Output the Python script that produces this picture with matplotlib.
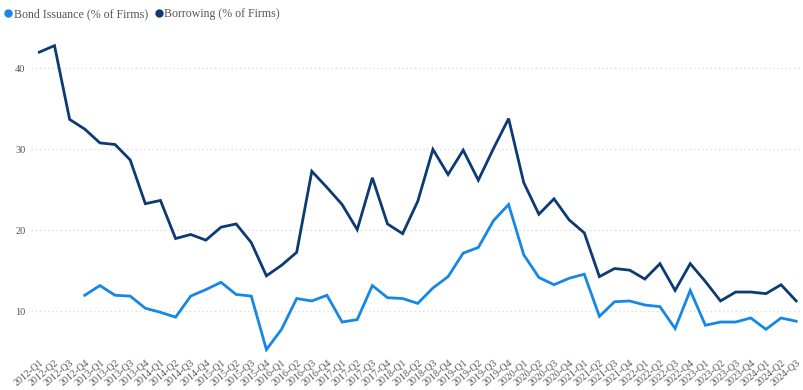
import matplotlib
matplotlib.use("Agg")
import matplotlib.pyplot as plt
from matplotlib.lines import Line2D

quarters = [f"{y}-Q{q}" for y in range(2012, 2025) for q in range(1, 5)][:51]

borrowing = [42.0, 42.8, 33.7, 32.5, 30.8, 30.6, 28.7, 23.3, 23.7, 19.0,
             19.5, 18.8, 20.4, 20.8, 18.5, 14.4, 15.7, 17.3, 27.3, 25.3,
             23.2, 20.1, 26.5, 20.8, 19.6, 23.6, 30.0, 26.9, 29.9, 26.2,
             30.1, 33.8, 25.9, 22.0, 23.9, 21.3, 19.7, 14.3, 15.3, 15.1,
             14.0, 15.9, 12.6, 15.9, 13.7, 11.3, 12.4, 12.4, 12.2, 13.3,
             11.3]

bond = [None, None, None, 12.0, 13.2, 12.0, 11.9, 10.4, 9.9, 9.3,
        11.9, 12.7, 13.6, 12.1, 11.9, 5.3, 7.8, 11.6, 11.3, 12.0,
        8.7, 9.0, 13.2, 11.7, 11.6, 11.0, 12.9, 14.3, 17.2, 17.9,
        21.2, 23.2, 17.0, 14.2, 13.3, 14.1, 14.6, 9.4, 11.2, 11.3,
        10.8, 10.6, 7.9, 12.6, 8.3, 8.7, 8.7, 9.2, 7.8, 9.2,
        8.8]

yticks = [10, 20, 30, 40]

bond_color = "#1588e6"
borrow_color = "#0c3a72"
text_color = "#555555"
serif = ["Liberation Serif", "DejaVu Serif"]

fig = plt.figure(figsize=(8.04, 3.9), dpi=100)
ax = fig.add_axes([0.0386, 0.0974, 0.9564, 0.8313])

x = list(range(len(quarters)))
bx = [i for i, v in zip(x, bond) if v is not None]
bv = [v for v in bond if v is not None]

ax.plot(x, borrowing, color=borrow_color, lw=2.0, solid_joinstyle="miter")
ax.plot(bx, bv, color=bond_color, lw=2.0, solid_joinstyle="miter")

ax.set_xlim(-0.55, 50.25)
ax.set_ylim(5, 45)
ax.set_yticks(yticks)
ax.set_yticklabels([str(t) for t in yticks], fontfamily=serif, fontsize=7.5, color=text_color)
ax.set_xticks(x)
ax.set_xticklabels(quarters, rotation=40, ha="right", va="top", rotation_mode="anchor",
                   fontfamily=serif, fontsize=7.2, color=text_color)
ax.tick_params(length=0, pad=4)
ax.grid(axis="y", color="#dddddd", linestyle=(0, (1, 2)), lw=1)
for s in ax.spines.values():
    s.set_visible(False)

handles = [Line2D([], [], marker="o", ls="", color=bond_color, markersize=5),
           Line2D([], [], marker="o", ls="", color=borrow_color, markersize=5)]
fig.legend(handles, ["Bond Issuance (% of Firms)", "Borrowing (% of Firms)"],
           loc="upper left", bbox_to_anchor=(-0.006, 1.0), ncol=2, frameon=False,
           handletextpad=0.05, columnspacing=0.5, handlelength=0.8,
           prop={"family": serif, "size": 8.6}, labelcolor=text_color, borderaxespad=0.3)

fig.savefig("out.png", dpi=100, facecolor="white")
